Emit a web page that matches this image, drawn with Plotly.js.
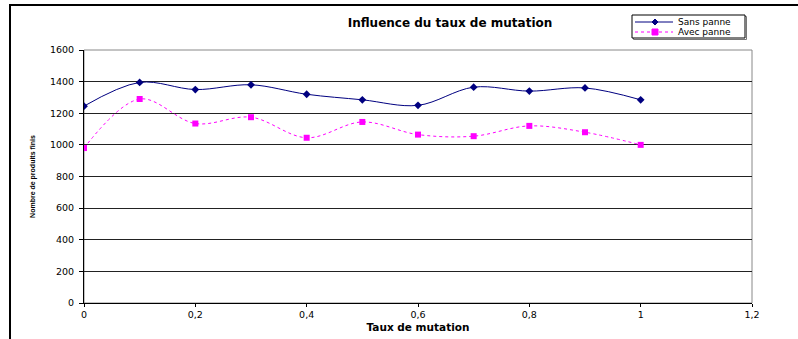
<!DOCTYPE html>
<html>
<head>
<meta charset="utf-8">
<script src="https://cdn.plot.ly/plotly-3.0.1.min.js"></script>
<style>
  html, body { margin: 0; padding: 0; background: #fff; }
  #chart { width: 798px; height: 339px; }
</style>
</head>
<body>
<div id="chart"></div>
<script>
const tauxMutation = [0, 0.1, 0.2, 0.3, 0.4, 0.5, 0.6, 0.7, 0.8, 0.9, 1.0];
const sansPanne = [1245, 1395, 1350, 1380, 1320, 1285, 1250, 1365, 1340, 1360, 1285];
const avecPanne = [980, 1290, 1135, 1175, 1045, 1145, 1065, 1055, 1120, 1080, 1000];
const seriesNames = ['Sans panne', 'Avec panne'];
const xTickVals = [0, 0.2, 0.4, 0.6, 0.8, 1, 1.2];
const xTickLabels = ['0', '0,2', '0,4', '0,6', '0,8', '1', '1,2'];
const yTickVals = [0, 200, 400, 600, 800, 1000, 1200, 1400, 1600];
const yTickLabels = ['0', '200', '400', '600', '800', '1000', '1200', '1400', '1600'];

const NAVY = '#000080', MAGENTA = '#FF00FF';
const W = 798, H = 339;
const L = 84, R = 46, T = 50, B = 36;
const pw = W - L - R, ph = H - T - B;
function px(pxv) { return (pxv - L) / pw; }
function py(pyv) { return (H - B - pyv) / ph; }

const traces = [
  {
    x: tauxMutation, y: sansPanne, name: seriesNames[0], type: 'scatter', mode: 'lines+markers',
    line: { color: NAVY, width: 1, shape: 'spline', smoothing: 1 },
    marker: { symbol: 'diamond', size: 6, color: NAVY }
  },
  {
    x: tauxMutation, y: avecPanne, name: seriesNames[1], type: 'scatter', mode: 'lines+markers',
    line: { color: MAGENTA, width: 1, dash: 'dot', shape: 'spline', smoothing: 1 },
    marker: { symbol: 'square', size: 6, color: MAGENTA }
  }
];

// Compact legend (box, sample lines, symbols, text)
const legRow = [22, 32];
function diamondPath(cx, cy, r) {
  return 'M' + px(cx) + ',' + py(cy - r) + ' L' + px(cx + r) + ',' + py(cy) +
         ' L' + px(cx) + ',' + py(cy + r) + ' L' + px(cx - r) + ',' + py(cy) + ' Z';
}
const legendShapes = [
  { type: 'rect', xref: 'paper', yref: 'paper', x0: px(632), x1: px(745), y0: py(15), y1: py(38),
    line: { color: '#000', width: 1 }, fillcolor: '#fff' },
  { type: 'rect', xref: 'paper', yref: 'paper', x0: px(633.5), x1: px(746.5), y0: py(16.5), y1: py(39.5),
    line: { color: '#777', width: 1 }, layer: 'below' },
  { type: 'line', xref: 'paper', yref: 'paper', x0: px(635), x1: px(673), y0: py(legRow[0]), y1: py(legRow[0]),
    line: { color: NAVY, width: 1 } },
  { type: 'path', xref: 'paper', yref: 'paper', path: diamondPath(655, legRow[0], 3),
    fillcolor: NAVY, line: { color: NAVY, width: 1 } },
  { type: 'line', xref: 'paper', yref: 'paper', x0: px(635), x1: px(673), y0: py(legRow[1]), y1: py(legRow[1]),
    line: { color: MAGENTA, width: 1, dash: 'dot' } },
  { type: 'rect', xref: 'paper', yref: 'paper', x0: px(652), x1: px(658), y0: py(legRow[1] - 3), y1: py(legRow[1] + 3),
    fillcolor: MAGENTA, line: { color: MAGENTA, width: 1 } }
];
const legendAnnotations = seriesNames.map((n, i) => ({
  xref: 'paper', yref: 'paper', x: px(676), y: py(legRow[i]), xanchor: 'left', yanchor: 'middle',
  text: n, showarrow: false, font: { size: 9, color: '#000' }
}));

const layout = {
  width: W, height: H,
  margin: { l: L, r: R, t: T, b: B, pad: 0 },
  paper_bgcolor: '#fff', plot_bgcolor: '#fff',
  font: { family: 'DejaVu Sans, Verdana, sans-serif', size: 9, color: '#000' },
  title: {
    text: '<b>Influence du taux de mutation</b>',
    font: { size: 12, color: '#000' },
    x: px(450), xref: 'paper', xanchor: 'center',
    y: 1 - 23 / H, yanchor: 'middle'
  },
  showlegend: false,
  xaxis: {
    range: [0, 1.2], tickvals: xTickVals, ticktext: xTickLabels,
    showgrid: false, zeroline: false,
    showline: true, linecolor: '#000', linewidth: 1,
    ticks: 'outside', ticklen: 3, tickcolor: '#000',
    tickfont: { size: 9.5 },
    title: { text: '<b>Taux de mutation</b>', font: { size: 10.5 }, standoff: 4 }
  },
  yaxis: {
    range: [0, 1600], tickvals: yTickVals, ticktext: yTickLabels,
    showgrid: true, gridcolor: '#222', gridwidth: 1, zeroline: false,
    showline: true, linecolor: '#000', linewidth: 1,
    ticks: 'outside', ticklen: 4, tickcolor: '#000',
    tickfont: { size: 9.5 }, ticklabelstandoff: 3,
    title: { text: '<b>Nombre de produits finis</b>',
             font: { family: 'Liberation Sans Narrow, Arial Narrow, Liberation Sans, sans-serif', size: 7 },
             standoff: 13 }
  },
  shapes: [
    { type: 'rect', xref: 'paper', yref: 'paper', x0: 0, x1: 1, y0: 0, y1: 1,
      line: { color: '#888', width: 1 }, layer: 'below' },
    { type: 'line', xref: 'paper', yref: 'paper',
      x0: px(10), x1: px(800), y0: py(5), y1: py(5),
      line: { color: '#000', width: 2 } },
    { type: 'line', xref: 'paper', yref: 'paper',
      x0: px(10), x1: px(10), y0: py(4), y1: py(342),
      line: { color: '#000', width: 2 } }
  ].concat(legendShapes),
  annotations: legendAnnotations
};

Plotly.newPlot('chart', traces, layout, { displayModeBar: false, staticPlot: true });
</script>
</body>
</html>
